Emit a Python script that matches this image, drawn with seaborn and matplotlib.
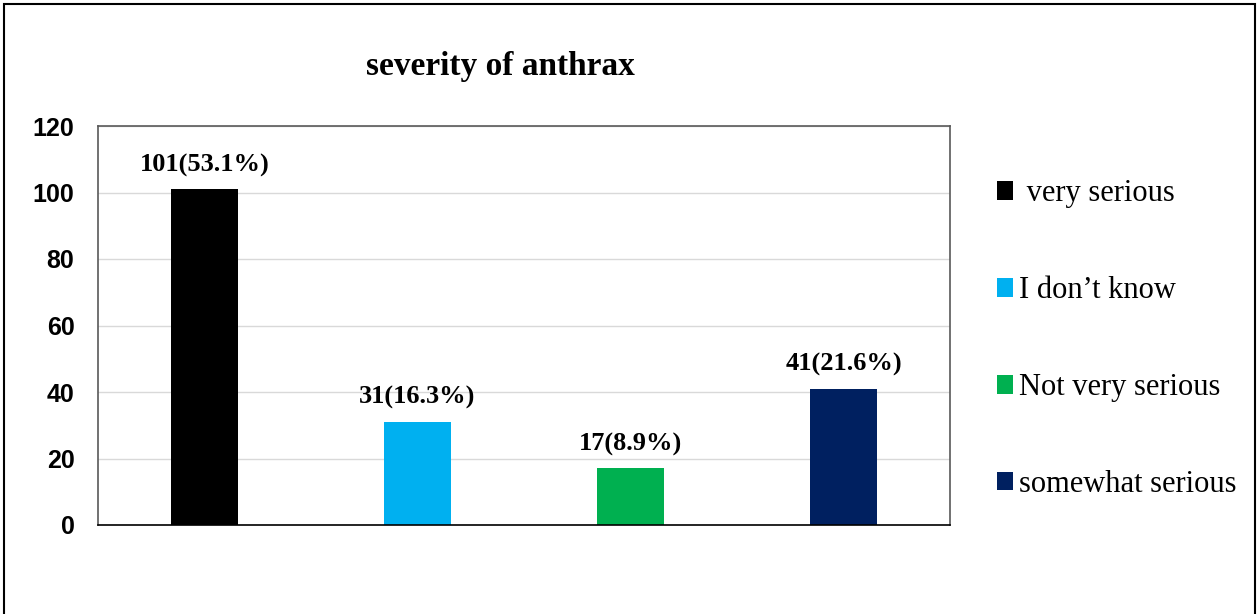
import matplotlib
matplotlib.use("Agg")
import matplotlib.pyplot as plt
from matplotlib.patches import Patch, Rectangle
import seaborn as sns
import pandas as pd

# Survey responses: perceived severity of anthrax
categories = ["very serious", "I don\u2019t know", "Not very serious", "somewhat serious"]
counts = [101, 31, 17, 41]
percents = [53.1, 16.3, 8.9, 21.6]
colors = ["#000000", "#00B0F0", "#00B050", "#002060"]
legend_labels = [" very serious", "I don\u2019t know", "Not very serious", "somewhat serious"]
yticks = [0, 20, 40, 60, 80, 100, 120]

df = pd.DataFrame({"category": categories, "count": counts})

sns.set_style("white")
plt.rcParams.update({"text.color": "black", "ytick.color": "black",
                     "axes.labelcolor": "black"})
fig = plt.figure(figsize=(12.6, 6.14), dpi=100)
ax = fig.add_axes([98 / 1260, 1 - 525 / 614, (950 - 98) / 1260, (525 - 126) / 614])

sns.barplot(data=df, x="category", y="count", hue="category",
            palette=colors, width=0.31, legend=False, ax=ax,
            saturation=1, edgecolor="none", order=categories)

ax.set_ylim(0, 120)
ax.set_yticks(yticks)
ax.set_yticklabels([str(t) for t in yticks], fontfamily="Liberation Sans",
                   fontweight="bold", fontsize=18, color="black")
ax.tick_params(axis="y", length=0, pad=17)
ax.set_xticks([])
ax.set_xlabel("")
ax.set_ylabel("")
ax.yaxis.grid(True, color="#d9d9d9", linewidth=1)
ax.set_axisbelow(True)
for side, sp in ax.spines.items():
    sp.set_visible(True)
    sp.set_color("#595959")
    sp.set_linewidth(1.2)
ax.spines["bottom"].set_color("#000000")

# Value labels above each bar
for bar in ax.patches[:len(categories)]:
    x = bar.get_x() + bar.get_width() / 2
    h = bar.get_height()
    k = counts.index(int(round(h)))
    ax.annotate(f"{counts[k]}({percents[k]}%)", (x, h), xytext=(0, 9),
                textcoords="offset points", ha="center", va="bottom",
                fontfamily="Liberation Serif", fontweight="bold", fontsize=19,
                color="black")

handles = [Patch(facecolor=c, edgecolor="none") for c in colors]
fig.legend(handles, legend_labels, loc="upper left",
           bbox_to_anchor=(969 / 1260, 1 - 152 / 614),
           frameon=False, prop={"family": "Liberation Serif", "size": 22},
           handlelength=0.55, handleheight=0.55, handletextpad=0.2,
           labelspacing=2.22)

fig.text(500 / 1260, 1 - 66 / 614, "severity of anthrax", ha="center", va="center",
         fontfamily="Liberation Serif", fontweight="bold", fontsize=24, color="black")

# Outer frame around the whole chart (open at the bottom)
fig.patches.append(Rectangle((4 / 1260, -0.05), 1251 / 1260, 1.05 - 4 / 614,
                             transform=fig.transFigure, fill=False,
                             edgecolor="#000000", linewidth=1.5))

fig.savefig("out.png", dpi=100)
